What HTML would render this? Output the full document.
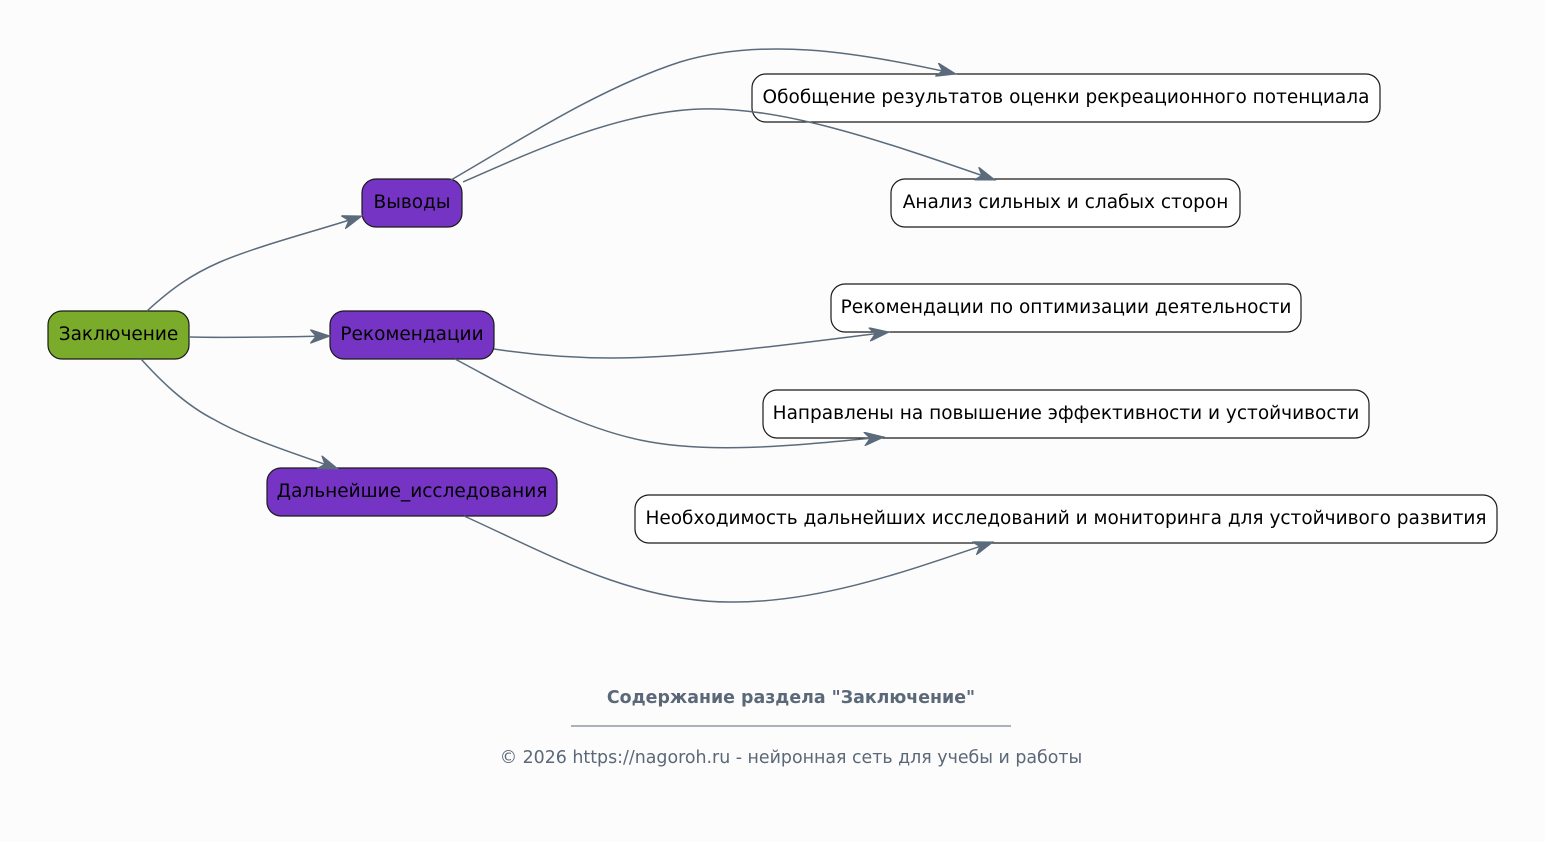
<!DOCTYPE html>
<html><head><meta charset="utf-8"><style>
html,body{margin:0;padding:0;background:#fcfcfc;}
svg{display:block;}
text{font-family:"DejaVu Sans","Liberation Sans","Noto Sans CJK SC",sans-serif;}
</style></head><body>
<svg width="1545" height="842" viewBox="0 0 1545 842" xmlns="http://www.w3.org/2000/svg">
<defs>
<marker id="v" markerUnits="userSpaceOnUse" markerWidth="22" markerHeight="14" refX="20" refY="7" orient="auto">
<path d="M0,0 L20,7 L0,14 L6,7 Z" fill="#5b6b7b" stroke="#5b6b7b" stroke-width="1"/>
</marker>
</defs>
<rect width="1545" height="842" fill="#fcfcfc"/>
<g font-size="18.5" fill="#000" text-anchor="middle">
<rect x="48" y="311" width="141" height="48" rx="14" fill="#7aab2a" stroke="#1a1a1a" stroke-width="1.2"/>
<text x="118.5" y="340">Заключение</text>
<rect x="362" y="179" width="100" height="48" rx="14" fill="#7634c4" stroke="#1a1a1a" stroke-width="1.2"/>
<text x="412" y="208">Выводы</text>
<rect x="330" y="311" width="164" height="48" rx="14" fill="#7634c4" stroke="#1a1a1a" stroke-width="1.2"/>
<text x="412" y="340">Рекомендации</text>
<rect x="267" y="468" width="290" height="48" rx="14" fill="#7634c4" stroke="#1a1a1a" stroke-width="1.2"/>
<text x="412" y="497">Дальнейшие_исследования</text>
<rect x="752" y="74" width="628" height="48" rx="14" fill="#fff" stroke="#1a1a1a" stroke-width="1.2"/>
<text x="1066" y="103">Обобщение результатов оценки рекреационного потенциала</text>
<rect x="891" y="179" width="349" height="48" rx="14" fill="#fff" stroke="#1a1a1a" stroke-width="1.2"/>
<text x="1065.5" y="208">Анализ сильных и слабых сторон</text>
<rect x="831" y="284" width="470" height="48" rx="14" fill="#fff" stroke="#1a1a1a" stroke-width="1.2"/>
<text x="1066" y="313">Рекомендации по оптимизации деятельности</text>
<rect x="763" y="390" width="606" height="48" rx="14" fill="#fff" stroke="#1a1a1a" stroke-width="1.2"/>
<text x="1066" y="419">Направлены на повышение эффективности и устойчивости</text>
<rect x="635" y="495" width="862" height="48" rx="14" fill="#fff" stroke="#1a1a1a" stroke-width="1.2"/>
<text x="1066" y="524">Необходимость дальнейших исследований и мониторинга для устойчивого развития</text>
</g>
<g fill="none" stroke="#5b6b7b" stroke-width="1.5" marker-end="url(#v)">
<path d="M147,311 C170,290 190,275 220,262 C260,245 320,230 362,216"/>
<path d="M189,337 C230,338 280,337 330,336"/>
<path d="M141,359 C160,380 185,405 215,420 C250,440 300,455 338,469"/>
<path d="M451,180 C520,140 600,88 680,62 C760,38 850,50 956,74"/>
<path d="M463,182 C540,148 620,112 700,109 C780,106 880,140 995,180"/>
<path d="M494,349 C540,356 590,360 650,357 C720,354 800,343 889,332"/>
<path d="M455,359 C510,388 570,425 640,440 C710,455 800,445 884,437"/>
<path d="M464,516 C540,550 630,602 730,602 C820,603 910,570 993,542"/>
</g>
<text x="791" y="703" font-size="17.4" font-weight="bold" fill="#5b6878" text-anchor="middle">Содержание раздела "Заключение"</text>
<line x1="571" y1="726" x2="1011" y2="726" stroke="#5b6878" stroke-width="1"/>
<text x="791" y="763" font-size="17.4" fill="#5b6878" text-anchor="middle">© 2026 https://nagoroh.ru - нейронная сеть для учебы и работы</text>
</svg>
</body></html>
